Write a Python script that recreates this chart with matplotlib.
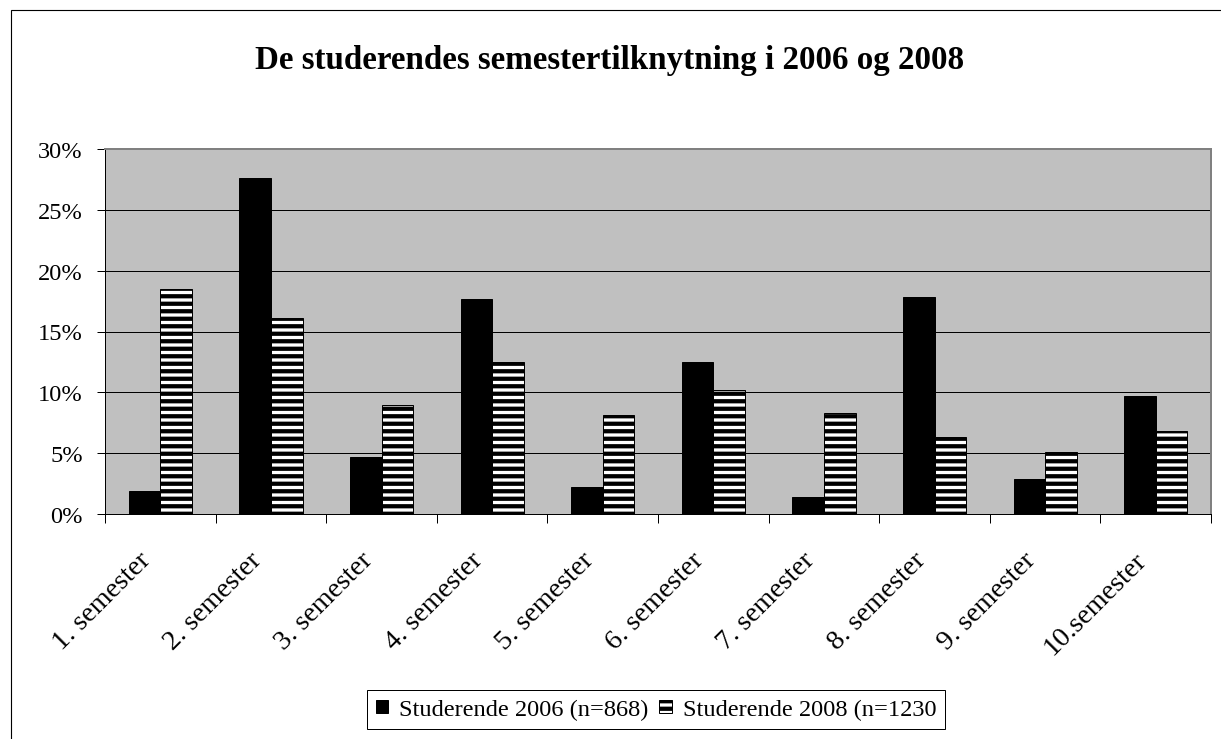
# Semestertilknytning 2006 vs 2008 -- grouped bar chart in the old Excel look
import numpy as np
import matplotlib
matplotlib.use("Agg")
import matplotlib.pyplot as plt
import matplotlib.transforms as mtransforms
from matplotlib.patches import Rectangle
from matplotlib.ticker import PercentFormatter

# =========================
# DATA
# =========================
TITLE = "De studerendes semestertilknytning i 2006 og 2008"
CATEGORIES = ["1. semester", "2. semester", "3. semester", "4. semester", "5. semester",
              "6. semester", "7. semester", "8. semester", "9. semester", "10.semester"]
LABEL_2006 = "Studerende 2006 (n=868)"
LABEL_2008 = "Studerende 2008 (n=1230"
VALUES_2006 = [1.9, 27.6, 4.7, 17.7, 2.2, 12.5, 1.4, 17.8, 2.9, 9.7]
VALUES_2008 = [18.5, 16.1, 9.0, 12.5, 8.1, 10.2, 8.3, 6.3, 5.1, 6.8]
Y_TICKS = [0, 5, 10, 15, 20, 25, 30]

# =========================
# STYLE
# =========================
DPI = 90
W_PX, H_PX = 1221, 740
plt.rcParams["font.family"] = ["Liberation Serif", "DejaVu Serif"]
plt.rcParams["hatch.linewidth"] = 3.4
PLOT_BG = "#c0c0c0"


def main():
    fig = plt.figure(figsize=(W_PX / DPI, H_PX / DPI), dpi=DPI)
    fig.patch.set_facecolor("white")

    # plot area in pixels: x 105..1211, y 150..515
    ax = fig.add_axes([105 / W_PX, 1 - 515 / H_PX, (1211 - 105) / W_PX, (515 - 150) / H_PX])
    ax.set_facecolor(PLOT_BG)

    x = np.arange(len(CATEGORIES))
    w = 1 / 3.5  # Excel gap width 150 %
    ax.bar(x - w / 2, VALUES_2006, w, color="black", edgecolor="black", linewidth=0.8,
           label=LABEL_2006, zorder=3)
    ax.bar(x + w / 2, VALUES_2008, w, color="white", edgecolor="black", linewidth=0.8,
           hatch="--", label=LABEL_2008, zorder=3)

    ax.set_xlim(-0.5, len(CATEGORIES) - 0.5)
    ax.set_ylim(0, 30)
    ax.set_yticks(Y_TICKS)
    ax.yaxis.set_major_formatter(PercentFormatter(decimals=0))
    ax.yaxis.grid(True, color="black", linewidth=0.8, zorder=1)
    ax.set_axisbelow(True)

    ax.tick_params(axis="y", direction="out", length=6.8, width=0.8, pad=11,
                   labelsize=19.5, color="black")

    # boundary ticks without labels, labels at category centres
    ax.set_xticks(np.arange(-0.5, len(CATEGORIES)), [""] * (len(CATEGORIES) + 1))
    ax.tick_params(axis="x", which="major", direction="out", length=6.8, width=0.8, color="black")
    ax.set_xticks(x, CATEGORIES, minor=True, rotation=45, ha="right", va="center",
                  rotation_mode="anchor")
    ax.tick_params(axis="x", which="minor", length=0, pad=0, labelsize=22.5)
    offset = mtransforms.ScaledTranslation(-13 / DPI, -42 / DPI, fig.dpi_scale_trans)
    for lab in ax.get_xticklabels(minor=True):
        lab.set_transform(lab.get_transform() + offset)

    for side in ("top", "right"):
        ax.spines[side].set_color("#808080")
        ax.spines[side].set_linewidth(1.6)
    for side in ("left", "bottom"):
        ax.spines[side].set_color("black")
        ax.spines[side].set_linewidth(0.8)

    fig.text(610 / W_PX, 1 - 69 / H_PX, TITLE, ha="center", va="baseline",
             fontsize=26.4, fontweight="bold")

    leg = fig.legend(loc="center", bbox_to_anchor=(656 / W_PX, 1 - 710.5 / H_PX),
                     ncol=2, fontsize=19.5, frameon=True, fancybox=False, framealpha=1,
                     edgecolor="black", handlelength=0.5, handleheight=0.45,
                     handletextpad=0.45, columnspacing=0.45, borderpad=0.35,
                     borderaxespad=0)
    leg.get_frame().set_linewidth(0.8)

    # outer chart frame (right and bottom edges fall outside the image)
    fig.add_artist(Rectangle((11 / W_PX, -0.1), 1.2, 1 - 11 / H_PX + 0.1,
                             transform=fig.transFigure, fill=False,
                             edgecolor="black", linewidth=0.9))

    fig.savefig("out.png", dpi=DPI)


if __name__ == "__main__":
    main()
